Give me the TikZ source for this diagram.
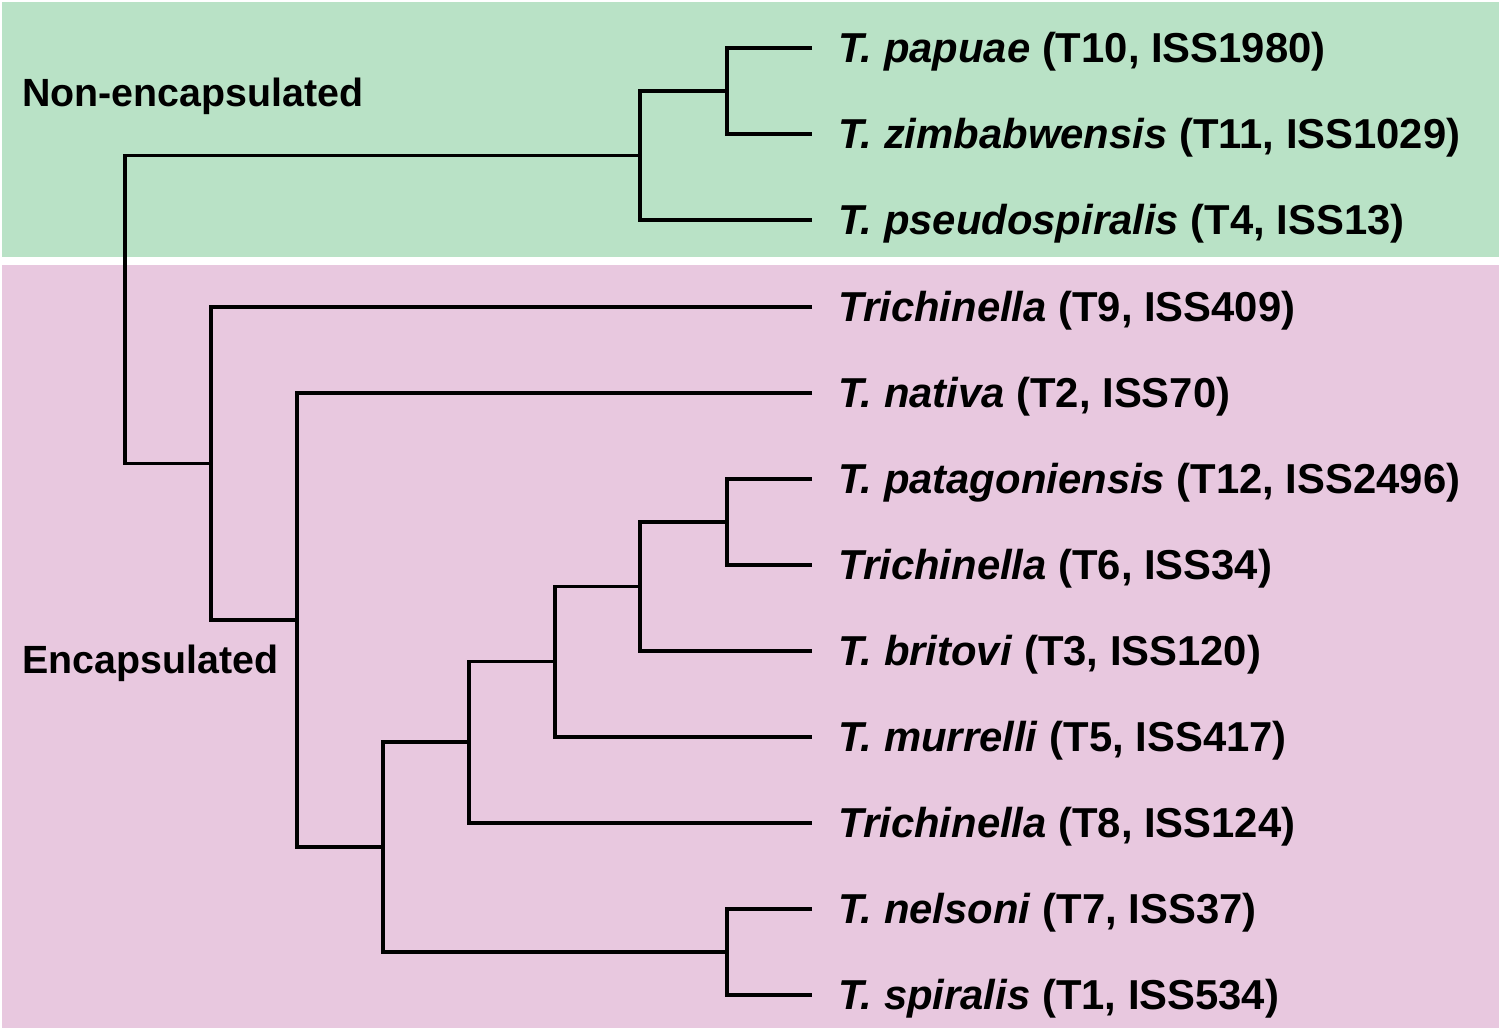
\documentclass[tikz,border=0pt]{standalone}
\usepackage{fontspec}
\setmainfont{Liberation Sans}
\definecolor{nonenc}{HTML}{B9E2C6}
\definecolor{enc}{HTML}{E8C8DF}

\begin{document}
\begin{tikzpicture}[x=0.02cm,y=-0.02cm,line join=miter,
  branch/.style={line width=2.2pt,black},
  taxon/.style={anchor=base west,inner sep=0pt,font=\fontsize{23.8}{28}\selectfont\bfseries},
  group/.style={anchor=base west,inner sep=0pt,font=\fontsize{22.4}{26}\selectfont\bfseries}]
  \useasboundingbox (0,0) rectangle (1499,1032);
  % Background bands
  \fill[nonenc] (2,2) rectangle (1499,257);
  \fill[enc] (2,265) rectangle (1499,1028);
  \node[group] (lblnon) at (22,106) {Non-encapsulated};
  \node[group] (lblenc) at (22,673) {Encapsulated};
  % Leaves
  \foreach \i/\y/\sp/\rest in {
      papuae/48/T. papuae/{(T10, ISS1980)},
      zimb/134/T. zimbabwensis/{(T11, ISS1029)},
      pseudo/220/T. pseudospiralis/{(T4, ISS13)},
      tnine/307/Trichinella/{(T9, ISS409)},
      nativa/393/T. nativa/{(T2, ISS70)},
      patag/479/T. patagoniensis/{(T12, ISS2496)},
      tsix/565/Trichinella/{(T6, ISS34)},
      britovi/651/T. britovi/{(T3, ISS120)},
      murrelli/737/T. murrelli/{(T5, ISS417)},
      teight/823/Trichinella/{(T8, ISS124)},
      nelsoni/909/T. nelsoni/{(T7, ISS37)},
      spiralis/995/T. spiralis/{(T1, ISS534)}} {
    \coordinate (\i) at (812,\y);
    \node[taxon] (\i-lbl) at (838,\y+14) {\textit{\sp} \rest};
  }
  % Internal nodes
  \coordinate (n1) at (727,91);
  \coordinate (n2) at (640,155.5);
  \coordinate (n3) at (727,522);
  \coordinate (n4) at (640,586.5);
  \coordinate (n5) at (555,661.5);
  \coordinate (n6) at (469,742);
  \coordinate (n7) at (727,952);
  \coordinate (n8) at (383,847);
  \coordinate (n9) at (297,620);
  \coordinate (n10) at (211,463.5);
  \coordinate (root) at (125,309.5);
  % Branches
  \draw[branch] (papuae) -| (n1) |- (zimb);
  \draw[branch] (n1) -| (n2) |- (pseudo);
  \draw[branch] (patag) -| (n3) |- (tsix);
  \draw[branch] (n3) -| (n4) |- (britovi);
  \draw[branch] (n4) -| (n5) |- (murrelli);
  \draw[branch] (n5) -| (n6) |- (teight);
  \draw[branch] (nelsoni) -| (n7) |- (spiralis);
  \draw[branch] (n6) -| (n8) |- (n7);
  \draw[branch] (nativa) -| (n9) |- (n8);
  \draw[branch] (tnine) -| (n10) |- (n9);
  \draw[branch] (n2) -| (root) |- (n10);
\end{tikzpicture}
\end{document}
